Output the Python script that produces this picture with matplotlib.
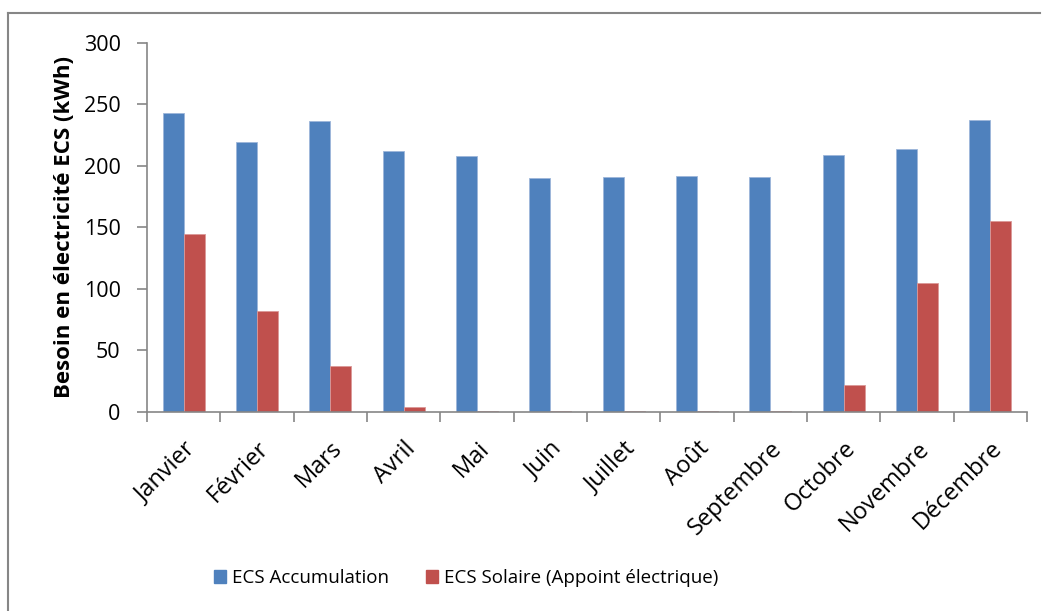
import numpy as np
import matplotlib.pyplot as plt
from matplotlib.patches import Patch
from matplotlib.lines import Line2D

plt.rcParams['font.family'] = ['Open Sans', 'DejaVu Sans']

mois = ["Janvier", "Février", "Mars", "Avril", "Mai", "Juin", "Juillet",
        "Août", "Septembre", "Octobre", "Novembre", "Décembre"]
accumulation = [243.2, 219.1, 236.7, 212.3, 207.8, 190.2, 191.3, 191.5, 191.1, 208.8, 213.7, 237.3]
solaire = [144.3, 81.9, 37.4, 3.6, 0.3, 0.4, 0.5, 0.5, 0.5, 21.7, 105.0, 155.0]

bleu = "#4F81BD"
rouge = "#C0504D"
gris = "#868686"

fig = plt.figure(figsize=(10.44, 6.11), dpi=100)
ax = fig.add_axes([147 / 1044, (611 - 411.7) / 611, 880 / 1044, (411.7 - 43) / 611])

x = np.arange(len(mois))
w = 0.286
ax.bar(x - w / 2, accumulation, w, color=bleu, edgecolor="#9DB6DA", linewidth=0.6, label="ECS Accumulation")
ax.bar(x + w / 2, solaire, w, color=rouge, edgecolor="#DB9897", linewidth=0.6,
       label="ECS Solaire (Appoint électrique)")

ax.set_xlim(-0.5, len(mois) - 0.5)
ax.set_ylim(0, 300)
ax.set_yticks(range(0, 301, 50))
ax.tick_params(axis="y", labelsize=15.5, length=7, color=gris, width=1.2, pad=12)

ax.set_xticks(x)
ax.set_xticklabels(mois, rotation=45, ha="right", va="top", rotation_mode="anchor", fontsize=17)
ax.tick_params(axis="x", which="major", length=0, pad=18)
ax.set_xticks(np.arange(-0.5, len(mois)), minor=True)
ax.tick_params(axis="x", which="minor", length=7, color=gris, width=1.2)

for s in ["top", "right"]:
    ax.spines[s].set_visible(False)
for s in ["left", "bottom"]:
    ax.spines[s].set_color(gris)
    ax.spines[s].set_linewidth(1.2)

ax.set_ylabel("Besoin en électricité ECS (kWh)", fontsize=16, fontweight="bold", labelpad=6)

handles = [Patch(color=bleu), Patch(color=rouge)]
fig.legend(handles, ["ECS Accumulation", "ECS Solaire (Appoint électrique)"], ncol=2,
           loc="center", bbox_to_anchor=(466 / 1044, 1 - 578 / 611), frameon=False,
           fontsize=13.5, handlelength=0.65, handleheight=0.65, handletextpad=0.3, columnspacing=2.0)

# cadre du graphique
fig.add_artist(Line2D([8 / 1044, 8 / 1044], [0, 1 - 13 / 611], transform=fig.transFigure, color=gris, lw=1.5))
fig.add_artist(Line2D([8 / 1044, 1040 / 1044], [1 - 13 / 611, 1 - 13 / 611], transform=fig.transFigure, color=gris, lw=1.5))

fig.savefig("out.png", dpi=100)
